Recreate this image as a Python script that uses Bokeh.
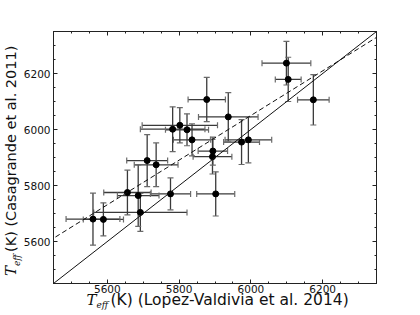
from bokeh.plotting import figure
from bokeh.models import (ColumnDataSource, Whisker, TeeHead, Slope, Div,
                          LinearAxis, FixedTicker, Range1d, CustomJSTickFormatter)
from bokeh.layouts import column
from bokeh.embed import file_html
from bokeh.resources import INLINE

# Teff (K) from Lopez-Valdivia et al. 2014 (x) and Casagrande et al. 2011 (y)
teff_lv = [5560, 5589, 5656, 5686, 5692, 5711, 5736, 5776, 5782, 5802, 5822,
           5836, 5877, 5894, 5893, 5902, 5937, 5974, 5993, 6099, 6104, 6174]
teff_cas = [5680, 5679, 5775, 5764, 5704, 5889, 5874, 5770, 6001, 6015, 5999,
            5963, 6107, 5923, 5903, 5770, 6045, 5955, 5963, 6237, 6179, 6106]
err_lv = [75, 56, 66, 58, 130, 57, 61, 56, 90, 105, 60,
          52, 52, 41, 54, 53, 83, 50, 65, 68, 36, 44]
err_cas = [93, 59, 80, 110, 68, 93, 78, 57, 80, 63, 57,
           57, 79, 50, 62, 79, 87, 80, 82, 78, 79, 90]

axis_min, axis_max = 5450, 6350
major_ticks = [5600, 5800, 6000, 6200]
minor_ticks = list(range(5450, 6351, 50))

x_title = "(K) (Lopez-Valdivia et al. 2014)"
y_title = "(K) (Casagrande et al. 2011)"

# one-to-one relation and linear fit (dashed)
one_to_one = (1.0, 0.0)
fit_line = (0.797, 1268.0)

src = ColumnDataSource(dict(
    x=teff_lv, y=teff_cas,
    xl=[a - b for a, b in zip(teff_lv, err_lv)],
    xu=[a + b for a, b in zip(teff_lv, err_lv)],
    yl=[a - b for a, b in zip(teff_cas, err_cas)],
    yu=[a + b for a, b in zip(teff_cas, err_cas)],
))

p = figure(width=420, height=315, output_backend="svg", toolbar_location=None,
           x_range=Range1d(axis_min, axis_max), y_range=Range1d(axis_min, axis_max),
           min_border_left=53, min_border_right=44, min_border_top=31,
           min_border_bottom=32, x_axis_location=None, y_axis_location=None,
           margin=0)
p.grid.visible = False
p.outline_line_color = "#222222"
p.outline_line_width = 1
p.background_fill_color = "white"
p.border_fill_alpha = 0

ticker = FixedTicker(ticks=major_ticks, minor_ticks=minor_ticks)

def make_axis(show_labels, standoff):
    ax = LinearAxis(ticker=ticker)
    ax.major_tick_in = 4
    ax.major_tick_out = 0
    ax.minor_tick_in = 2
    ax.minor_tick_out = 0
    ax.axis_line_color = "#222222"
    ax.major_tick_line_color = "#222222"
    ax.minor_tick_line_color = "#222222"
    ax.major_label_text_font = "DejaVu Sans"
    ax.major_label_text_font_size = "10.5px"
    ax.major_label_text_color = "#111111"
    ax.major_label_standoff = standoff
    if not show_labels:
        ax.formatter = CustomJSTickFormatter(code="return ''")
        ax.major_label_standoff = 0
    return ax

p.add_layout(make_axis(True, 1), "below")
p.add_layout(make_axis(True, 3), "left")
p.add_layout(make_axis(False, 0), "above")
p.add_layout(make_axis(False, 0), "right")

p.add_layout(Slope(gradient=one_to_one[0], y_intercept=one_to_one[1],
                   line_color="#111111", line_width=1))
p.add_layout(Slope(gradient=fit_line[0], y_intercept=fit_line[1],
                   line_color="#111111", line_width=1, line_dash="5 3"))

bar_color = "#3a3a3a"
cap_color = "#6a6a6a"
for base, lo, up, dim in (("y", "xl", "xu", "width"), ("x", "yl", "yu", "height")):
    w = Whisker(source=src, base=base, lower=lo, upper=up, dimension=dim,
                line_color=bar_color, line_width=1.3,
                upper_head=TeeHead(size=6, line_color=cap_color, line_width=1.2),
                lower_head=TeeHead(size=6, line_color=cap_color, line_width=1.2))
    p.add_layout(w)

p.scatter("x", "y", source=src, size=6, fill_color="black", line_color="black")

# axis titles as HTML text (T_eff with subscript), overlaid on the page
def title_html(main, left, top, rotated, size):
    rot = "transform-origin:0 0;transform:rotate(-90deg);" if rotated else ""
    return (
        f'<div style="position:absolute;left:{left}px;top:{top}px;z-index:50;'
        f'white-space:nowrap;font-family:\'DejaVu Sans\';font-size:{size};'
        f'line-height:1;color:#111111;{rot}">'
        '<span style="display:inline-block;width:24px;font-size:15px">'
        '<span style="font-family:\'DejaVu Serif\';font-style:italic">T</span>'
        '<span style="font-family:\'DejaVu Serif\';font-style:italic;'
        'font-size:9px;position:relative;top:3.5px">eff</span></span>'
        f'<span>{main}</span></div>'
    )

titles = Div(text=title_html(x_title, 86.5, 292.5, False, "15.5px") +
             title_html(y_title, 4, 275.5, True, "14.5px"),
             width=420, height=0, margin=0)

layout = column(titles, p, spacing=0)
open("out.html", "w").write(file_html(layout, INLINE))
